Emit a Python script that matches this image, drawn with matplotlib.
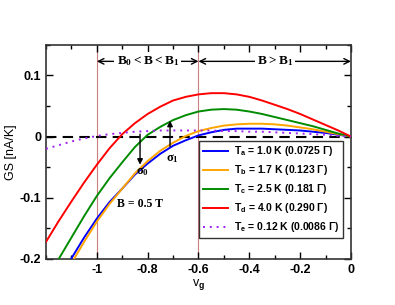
import matplotlib
matplotlib.use('Agg')
import matplotlib.pyplot as plt
from matplotlib.ticker import MultipleLocator

plt.rcParams['font.family'] = 'Liberation Sans'
plt.rcParams['font.weight'] = 'bold'
plt.rcParams['mathtext.fontset'] = 'custom'
plt.rcParams['mathtext.rm'] = 'Liberation Serif:bold'
plt.rcParams['mathtext.sf'] = 'Liberation Sans:bold'
plt.rcParams['mathtext.it'] = 'Liberation Sans:bold'
plt.rcParams['mathtext.bf'] = 'Liberation Sans:bold'

# GS curves, v_g vs GS [nA/K]
v_a = [-1.10, -1.05, -1.0, -0.95, -0.9, -0.85, -0.8, -0.75, -0.7, -0.65, -0.6, -0.55,
       -0.5, -0.45, -0.4, -0.35, -0.3, -0.25, -0.2, -0.15, -0.1, -0.05, 0.0]
gs_a = [-0.199, -0.165, -0.134, -0.107, -0.085, -0.062, -0.044, -0.028, -0.015, -0.006,
        0.002, 0.007, 0.011, 0.013, 0.013, 0.013, 0.012, 0.011, 0.010, 0.008, 0.006, 0.003, 0.0]

v_b = [-1.09, -1.05, -1.0, -0.95, -0.9, -0.85, -0.8, -0.75, -0.7, -0.65, -0.6, -0.55,
       -0.5, -0.45, -0.4, -0.35, -0.3, -0.25, -0.2, -0.15, -0.1, -0.05, 0.0]
gs_b = [-0.2, -0.172, -0.139, -0.110, -0.085, -0.060, -0.040, -0.023, -0.010, 0.001,
        0.009, 0.014, 0.018, 0.020, 0.021, 0.021, 0.020, 0.018, 0.015, 0.012, 0.008, 0.004, 0.0]

v_c = [-1.15, -1.1, -1.05, -1.0, -0.95, -0.9, -0.85, -0.8, -0.75, -0.7, -0.65, -0.6, -0.55,
       -0.5, -0.45, -0.4, -0.35, -0.3, -0.25, -0.2, -0.15, -0.1, -0.05, 0.0]
gs_c = [-0.2, -0.165, -0.130, -0.097, -0.068, -0.042, -0.017, 0.003, 0.016, 0.027, 0.035,
        0.041, 0.044, 0.045, 0.044, 0.041, 0.037, 0.032, 0.027, 0.022, 0.017, 0.011, 0.005, 0.0]

v_d = [-1.2, -1.15, -1.1, -1.05, -1.0, -0.95, -0.9, -0.85, -0.8, -0.75, -0.7, -0.65, -0.6,
       -0.55, -0.5, -0.45, -0.4, -0.35, -0.3, -0.25, -0.2, -0.15, -0.1, -0.05, 0.0]
gs_d = [-0.172, -0.138, -0.106, -0.075, -0.046, -0.019, 0.004, 0.022, 0.037, 0.049, 0.059,
        0.065, 0.069, 0.071, 0.071, 0.069, 0.065, 0.059, 0.052, 0.045, 0.037, 0.028, 0.019,
        0.010, 0.0]

v_e = [-1.2, -1.15, -1.1, -1.05, -1.0, -0.95, -0.9, -0.85, -0.8, -0.75, -0.7, -0.65, -0.6,
       -0.55, -0.5, -0.45, -0.4, -0.35, -0.3, -0.25, -0.2, -0.15, -0.1, -0.05, 0.0]
gs_e = [-0.020, -0.014, -0.008, -0.003, 0.001, 0.004, 0.006, 0.008, 0.009, 0.010, 0.010,
        0.010, 0.010, 0.010, 0.009, 0.009, 0.008, 0.008, 0.007, 0.006, 0.005, 0.004, 0.003,
        0.001, 0.0]

labels = [r'T$_\mathsf{a}$ = 1.0 K (0.0725 Γ)',
          r'T$_\mathsf{b}$ = 1.7 K (0.123 Γ)',
          r'T$_\mathsf{c}$ = 2.5 K (0.181 Γ)',
          r'T$_\mathsf{d}$ = 4.0 K (0.290 Γ)',
          r'T$_\mathsf{e}$ = 0.12 K (0.0086 Γ)']

fig = plt.figure(figsize=(3.95, 3.05), dpi=100)
ax = fig.add_axes([0.1165, 0.151, 0.772, 0.702])

# region borders
for xv in (-1.0, -0.6):
    ax.axvline(xv, color='#cc7f7f', lw=0.8, zorder=1)
ax.axhline(0, color='black', lw=1.5, dashes=(5, 3), zorder=2)

ax.plot(v_a, gs_a, color='#0000ff', lw=1.4, label=labels[0], zorder=3)
ax.plot(v_b, gs_b, color='#ffa500', lw=1.4, label=labels[1], zorder=3)
ax.plot(v_c, gs_c, color='#008c00', lw=1.4, label=labels[2], zorder=3)
ax.plot(v_d, gs_d, color='#ff0000', lw=1.4, label=labels[3], zorder=3)
ax.plot(v_e, gs_e, color='#a020f0', lw=1.4, ls=(0, (1, 2.5)), label=labels[4], zorder=3)

ax.set_xlim(-1.2, 0)
ax.set_ylim(-0.2, 0.15)
ax.xaxis.set_minor_locator(MultipleLocator(0.1))
ax.yaxis.set_minor_locator(MultipleLocator(0.05))
ax.set_xticks([-1, -0.8, -0.6, -0.4, -0.2, 0])
ax.set_xticklabels(['-1', '-0.8', '-0.6', '-0.4', '-0.2', '0'])
ax.set_yticks([-0.2, -0.1, 0, 0.1])
ax.set_yticklabels(['-0.2', '-0.1', '0', '0.1'])
ax.tick_params(which='both', direction='in', top=True, right=True, labelsize=9, width=1)
ax.tick_params(which='major', length=5)
ax.tick_params(which='minor', length=3)
for sp in ax.spines.values():
    sp.set_linewidth(1.2)
    sp.set_color('#333333')

ax.set_xlabel(r'v$_\mathsf{g}$', fontsize=9, labelpad=1)
ax.set_ylabel('GS [nA/K]', fontsize=9, labelpad=2)

# region arrows
ya = 0.123
ax.annotate('', xy=(-1.0, ya), xytext=(-0.6, ya),
            arrowprops=dict(arrowstyle='<->', color='black', lw=1, shrinkA=0, shrinkB=0))
ax.annotate('', xy=(-0.6, ya), xytext=(0.0, ya),
            arrowprops=dict(arrowstyle='<->', color='black', lw=1, shrinkA=0, shrinkB=0))
ax.text(-0.8, ya, r'$\mathrm{B_0 < B < B_1}$', ha='center', va='center', fontsize=9.5,
        bbox=dict(facecolor='white', edgecolor='none', pad=1.5))
ax.text(-0.3, ya, r'$\mathrm{B > B_1}$', ha='center', va='center', fontsize=9.5,
        bbox=dict(facecolor='white', edgecolor='none', pad=1.5))

# sigma arrows
ax.annotate('', xy=(-0.83, -0.046), xytext=(-0.83, 0.004),
            arrowprops=dict(arrowstyle='-|>', color='black', lw=1, mutation_scale=8,
                            shrinkA=0, shrinkB=0))
ax.annotate('', xy=(-0.712, 0.026), xytext=(-0.712, -0.016),
            arrowprops=dict(arrowstyle='-|>', color='black', lw=1, mutation_scale=8,
                            shrinkA=0, shrinkB=0))
ax.text(-0.82, -0.058, r'$\mathrm{\sigma_0}$', ha='center', va='center', fontsize=9)
ax.text(-0.704, -0.036, r'$\mathrm{\sigma_1}$', ha='center', va='center', fontsize=9)
ax.text(-0.83, -0.111, 'B = 0.5 T', ha='center', va='center', fontsize=8.5,
        family='Liberation Serif', weight='bold')

leg = ax.legend(loc='lower right', bbox_to_anchor=(0.974, 0.098), borderaxespad=0,
                fontsize=7.5, frameon=True, fancybox=False, handlelength=2.4,
                labelspacing=0.48, borderpad=0.35, handletextpad=0.6)
leg.get_frame().set_edgecolor('black')
leg.get_frame().set_linewidth(1)

fig.savefig('out.png', dpi=100)
